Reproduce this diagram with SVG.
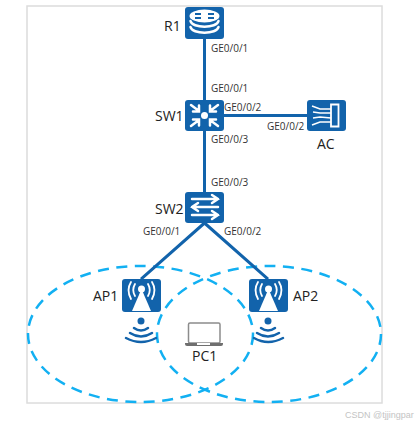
<svg xmlns="http://www.w3.org/2000/svg" width="419" height="426" viewBox="0 0 419 426">
<style>
text{font-family:"Open Sans","Noto Sans",sans-serif;fill:#222}
.n{font-size:14px}
.p{font-size:10px;fill:#333}
.b{fill:#1263ab}
.w{fill:#fff}
.s{fill:none;stroke:#fff;stroke-width:2.500;stroke-linecap:round}
.t{fill:none;stroke:#fff;stroke-width:1.800;stroke-linecap:round}
.l{fill:none;stroke:#1263ab;stroke-width:3}
.r{fill:none;stroke:#12b0f2;stroke-width:2.500;stroke-dasharray:11 7.500}
.a{fill:none;stroke:#1263ab;stroke-width:2.500;stroke-linecap:round}
</style>
<rect x="27" y="6" width="355" height="397" fill="#fff" stroke="#dcdcdc" stroke-width="1.5"/>
<g id="coverage">
<ellipse class="r" cx="140.500" cy="334" rx="112.500" ry="68"/>
<ellipse class="r" cx="269" cy="334" rx="112" ry="68"/>
</g>
<g id="connectors">
<path class="l" d="M204.500 39V100M204.500 131V192M224 115.500H307"/>
<path class="l" d="M204.500 223L141 279M204.500 223L268 279"/>
</g>
<g id="R1">
<rect class="b" x="185" y="7" width="39" height="32" rx="3"/>
<ellipse class="w" cx="204.500" cy="16" rx="15" ry="6.500"/>
<path class="s" d="M190.500 21C192 28.500 217 28.500 218.500 21M190.500 27C192 34.500 217 34.500 218.500 27"/>
<path d="M195 14h6M195 18h6M208 14h6M208 18h6" stroke="#1263ab" stroke-width="2"/>
<text class="n" x="164" y="31">R1</text>
<text class="p" x="211" y="52">GE0/0/1</text>
</g>
<g id="SW1">
<rect class="b" x="185" y="100" width="39" height="31" rx="3"/>
<circle class="w" cx="204.500" cy="115.500" r="3.500"/>
<path class="s" d="M191 105L199 111M199 105.500V111.500H193M218 105L210 111M210 105.500V111.500H216M191 126L199 120M199 125.500V119.500H193M218 126L210 120M210 125.500V119.500H216"/>
<text class="n" x="155" y="121">SW1</text>
<text class="p" x="211" y="92">GE0/0/1</text>
<text class="p" x="224" y="111">GE0/0/2</text>
<text class="p" x="211" y="143">GE0/0/3</text>
</g>
<g id="AC">
<rect class="b" x="307" y="100" width="39" height="31" rx="3"/>
<path d="M331 104.500h7.500v22h-7.500z" fill="none" stroke="#fff" stroke-width="1.800"/>
<path d="M312 106L320 109L331 109M313 112L320 113L331 113M313 118L320 117L331 118M312 125L320 122L331 122" fill="none" stroke="#fff" stroke-width="1.500"/>
<text class="n" x="317" y="149">AC</text>
<text class="p" x="267" y="130">GE0/0/2</text>
</g>
<g id="SW2">
<rect class="b" x="185" y="192" width="39" height="31" rx="3"/>
<path class="s" d="M192 199H218M212 195L218 199L212 203M192 207H218M198 203L192 207L198 211M192 215H218M212 211L218 215L212 219"/>
<text class="n" x="155" y="214">SW2</text>
<text class="p" x="211" y="186">GE0/0/3</text>
<text class="p" x="143" y="235">GE0/0/1</text>
<text class="p" x="224" y="235">GE0/0/2</text>
</g>
<g id="AP1">
<rect class="b" x="122" y="279" width="39" height="33" rx="3"/>
<path class="w" d="M141.500 289L151 311H132Z"/>
<circle class="w" cx="141.500" cy="289" r="3.500"/>
<path class="t" d="M135 284Q131.500 290 135 296M148 284Q151.500 290 148 296M131 282Q126 290 131 299M152 282Q157 290 152 299"/>
<circle class="b" cx="141" cy="321" r="3.500"/>
<path class="a" d="M134 328Q141 333 148 328M130 333Q141 340 152 333M126 338Q141 346 156 338"/>
<text class="n" x="93" y="301">AP1</text>
</g>
<g id="AP2">
<rect class="b" x="249" y="279" width="39" height="33" rx="3"/>
<path class="w" d="M268.500 289L278 311H259Z"/>
<circle class="w" cx="268.500" cy="289" r="3.500"/>
<path class="t" d="M262 284Q258.500 290 262 296M275 284Q278.500 290 275 296M258 282Q253 290 258 299M279 282Q284 290 279 299"/>
<circle class="b" cx="268" cy="321" r="3.500"/>
<path class="a" d="M261 328Q268 333 275 328M257 333Q268 340 279 333M254 338Q268 346 283 338"/>
<text class="n" x="293" y="301">AP2</text>
</g>
<g id="PC1">
<rect x="188.500" y="323" width="31.500" height="20" rx="1.500" fill="#fff" stroke="#8c8c8c" stroke-width="1.500"/>
<path d="M185 343H223V344Q223 346 221 346H187Q185 346 185 344Z" fill="#6f6f6f"/>
<rect x="197" y="343" width="13" height="2" fill="#fff"/>
<text class="n" x="192" y="361">PC1</text>
</g>
<text x="345" y="418" style="font-family:'Liberation Sans',sans-serif;font-size:9px;fill:#c4c4c4">CSDN @tjjingpar</text>
</svg>
